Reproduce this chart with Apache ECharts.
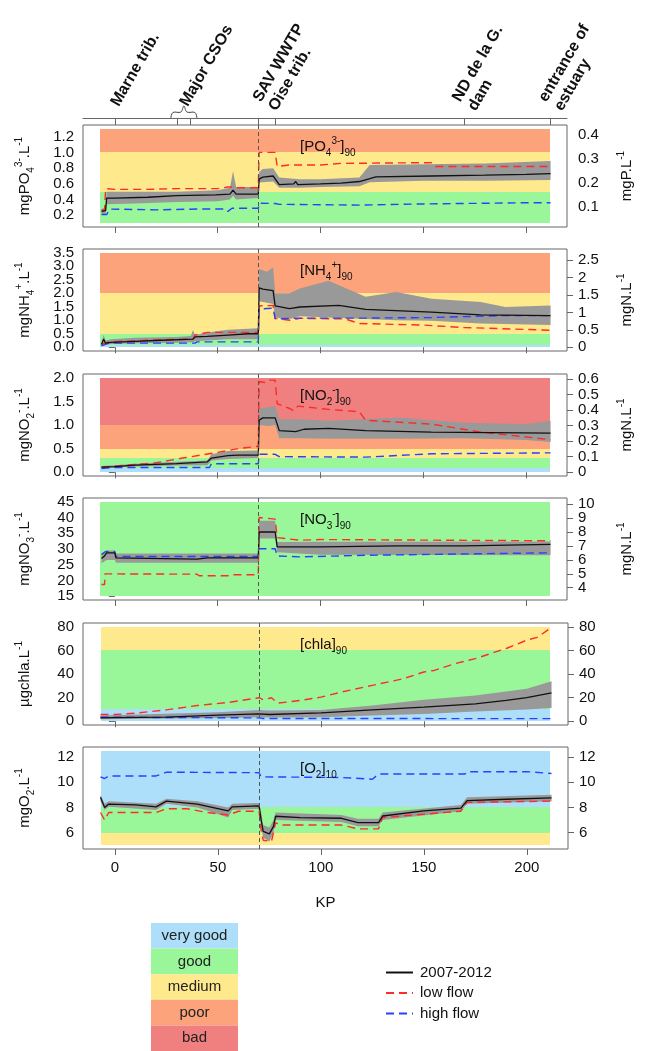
<!DOCTYPE html>
<html>
<head>
<meta charset="utf-8">
<script src="https://cdn.jsdelivr.net/npm/echarts@6/dist/echarts.min.js"></script>
<style>
  html, body { margin: 0; padding: 0; background: #fff; }
  #chart { width: 646px; height: 1051px; }
</style>
</head>
<body>
<div id="chart"></div>
<script>
// ---- x axis (KP) ----
const kpTicks = [0, 50, 100, 150, 200];
const siteTickKP = [0, 30.5, 36.7, 70, 78, 170, 212];
const siteKP = [0, 33.6, 73, 170, 212];
const siteNames = ['Marne trib.', 'Major CSOs', 'SAV WWTP\nOise trib.', 'ND de la G.\ndam', 'entrance of\nestuary'];

// ---- quality classes ----
const qualityKeys = ['vg', 'g', 'm', 'p', 'b'];
const qualityNames = ['very good', 'good', 'medium', 'poor', 'bad'];
const qualityColors = ['#ADDFFB', '#99F799', '#FEE98C', '#FCA37C', '#F0807F'];

// [low, high, class]
const po4Classes = [[0.1, 0.5, 'g'], [0.5, 1.0, 'm'], [1.0, 1.3, 'p']];
const nh4Classes = [[0, 0.1, 'vg'], [0.1, 0.5, 'g'], [0.5, 2, 'm'], [2, 3.5, 'p']];
const no2Classes = [[0, 0.1, 'vg'], [0.1, 0.3, 'g'], [0.3, 0.5, 'm'], [0.5, 1, 'p'], [1, 2, 'b']];
const no3Classes = [[15, 45, 'g']];
const chlaClasses = [[0, 10, 'vg'], [10, 60, 'g'], [60, 80, 'm']];
const o2Classes = [[5, 6, 'm'], [6, 8, 'g'], [8, 12.5, 'vg']];

// ---- PO4 (mgPO4/L) ----
const po4Mean = [[-6.5,0.25],[-4.5,0.26],[-4,0.42],[0,0.42],[16,0.43],[30,0.45],[49,0.46],[56,0.47],[57.5,0.52],[59,0.47],[69.8,0.47],[70.2,0.66],[72,0.685],[77,0.70],[80,0.59],[87,0.60],[88,0.63],[89,0.59],[100,0.60],[110,0.61],[119,0.63],[127,0.69],[154,0.70],[180,0.71],[200,0.72],[212,0.73]];
const po4Band = [[-6.5,0.22,0.28],[-4.5,0.22,0.30],[-4,0.34,0.50],[10,0.35,0.50],[30,0.37,0.50],[50,0.38,0.52],[56,0.40,0.55],[57.5,0.45,0.76],[59,0.40,0.56],[69.8,0.42,0.56],[70.2,0.62,0.75],[72,0.62,0.79],[77,0.63,0.80],[80,0.55,0.68],[90,0.55,0.66],[100,0.56,0.66],[119,0.57,0.68],[124,0.62,0.84],[150,0.64,0.85],[180,0.64,0.86],[212,0.65,0.89]];
const po4Low = [[-6.5,0.27],[-5,0.27],[-4.5,0.54],[0,0.53],[16,0.53],[30,0.54],[50,0.54],[55,0.56],[58,0.56],[60,0.55],[69.8,0.55],[70.2,1.0],[78,1.0],[79,0.82],[85,0.84],[100,0.84],[110,0.86],[154,0.87],[156,0.82],[212,0.82]];
const po4High = [[-6.5,0.21],[-4,0.21],[-2.5,0.28],[20,0.27],[40,0.28],[54,0.28],[55,0.25],[57,0.29],[69.8,0.29],[70.2,0.355],[78,0.35],[80,0.34],[120,0.33],[150,0.345],[200,0.36],[212,0.36]];

// ---- NH4 (mgNH4/L) ----
const nh4Mean = [[-6.5,0.1],[-5.5,0.3],[-4.5,0.15],[-2,0.18],[10,0.22],[20,0.25],[38,0.3],[39,0.38],[45,0.4],[55,0.45],[65,0.5],[69.8,0.5],[70.2,2.2],[72,2.15],[77,2.1],[78,1.53],[85,1.43],[90,1.49],[109,1.55],[122,1.40],[154,1.30],[178,1.20],[212,1.17]];
const nh4Band = [[-6.5,0.05,0.15],[-5.5,0.15,0.45],[-4.5,0.08,0.25],[-2,0.12,0.3],[10,0.15,0.35],[30,0.17,0.38],[37,0.18,0.42],[38,0.18,0.64],[39,0.22,0.45],[45,0.25,0.55],[55,0.3,0.65],[69.8,0.3,0.7],[70.2,1.7,2.9],[74,1.65,2.8],[77,1.6,2.96],[78,1.1,2.0],[85,1.05,2.0],[90,1.15,2.18],[104,1.1,2.46],[122,1.05,1.87],[137,1.0,2.05],[154,0.98,1.8],[178,0.88,1.68],[190,0.86,1.49],[212,0.82,1.55]];
const nh4Low = [[-6.5,0.1],[-3,0.2],[20,0.27],[38,0.3],[39,0.45],[45,0.55],[69.8,0.55],[70.2,1.53],[77,1.55],[78,1.07],[85,1.0],[90,1.07],[112,1.05],[119,0.88],[150,0.82],[170,0.73],[212,0.63]];
const nh4High = [[-6.5,0.05],[-3,0.15],[39,0.15],[40,0.2],[69.8,0.2],[70.2,1.41],[77,1.45],[78,1.05],[90,1.08],[122,1.08],[154,1.1],[187,1.17],[212,1.17]];

// ---- NO2 (mgNO2/L) ----
const no2Mean = [[-6.5,0.11],[0,0.12],[10,0.15],[30,0.18],[45,0.22],[47,0.3],[55,0.35],[60,0.36],[69.8,0.36],[70.2,1.1],[72,1.15],[78,1.15],[80,0.88],[88,0.86],[92,0.91],[104,0.93],[122,0.88],[154,0.85],[212,0.83]];
const no2Band = [[-6.5,0.09,0.13],[0,0.1,0.15],[10,0.12,0.18],[30,0.14,0.22],[45,0.15,0.25],[47,0.25,0.38],[55,0.28,0.45],[69.8,0.3,0.46],[70.2,1.0,1.35],[75,0.98,1.38],[78,1.0,1.4],[80,0.72,1.12],[90,0.72,1.12],[105,0.71,1.09],[138,0.71,1.16],[170,0.72,1.05],[200,0.68,1.02],[212,0.64,1.09]];
const no2Low = [[-6.5,0.1],[5,0.15],[20,0.2],[33,0.3],[50,0.42],[60,0.5],[69.8,0.55],[70.2,1.92],[73,1.9],[75,1.95],[78,1.95],[79,1.45],[85,1.35],[87,1.3],[89,1.4],[104,1.33],[119,1.28],[122,1.1],[154,1.02],[178,0.85],[212,0.69]];
const no2High = [[-6.5,0.08],[0,0.1],[46,0.1],[47,0.18],[69.8,0.18],[70.2,0.38],[78,0.38],[80,0.33],[122,0.32],[154,0.39],[212,0.41]];

// ---- NO3 (mgNO3/L) ----
const no3Mean = [[-6.5,27],[-5,27.8],[-4,28.8],[0,28.8],[0.5,27.2],[40,26.8],[45,27.2],[69.8,27.2],[70.2,35.4],[78,35.4],[79,30.7],[100,30.7],[138,31],[170,31],[212,31.5]];
const no3Band = [[-6.5,25.5,28.5],[-4,26.5,29.5],[0,26.5,29.5],[0.5,25.6,28.6],[69.8,25.6,28.6],[70.2,33.3,39],[78,33.3,39],[79,29,32.2],[100,28.2,32.3],[212,28.0,32.4]];
const no3Low = [[-6.5,18.7],[-5,18.7],[-4.8,22.1],[40,22],[41,21.5],[55,21.5],[56,21.8],[69.8,21.8],[70.2,40],[78,39.5],[79,33.6],[90,32.8],[100,33.0],[212,32.6]];
const no3High = [[-6.5,28.3],[-4.5,29.2],[0,29.2],[0.5,27.6],[69.8,27.6],[70.2,30.1],[78,30.1],[79,27.8],[90,27.5],[122,28.0],[212,28.8]];

// ---- chla (ug/L) ----
const chlaMean = [[-7,2.8],[0,3.1],[25,3.4],[50,5.1],[70,6.2],[75,5.7],[100,7.1],[125,9.6],[150,11.9],[175,14.7],[190,17.6],[200,19.9],[212,24.1]];
const chlaBand = [[-7,1.7,4.8],[50,2.8,7.7],[70,3.4,9.6],[75,3.2,9],[100,3.4,9.6],[125,4.8,13.3],[150,6.2,18.2],[175,8.2,21.8],[200,9.9,27.5],[212,11.3,33.8]];
const chlaLow = [[-7,5.7],[0,5.7],[10,6.8],[25,9.6],[40,13.3],[55,15.9],[70,19.9],[72,18.2],[76,19.9],[79,15.3],[90,17.6],[100,20.4],[110,24.7],[125,30.4],[140,36],[150,41.7],[155,43],[165,48.8],[175,53],[190,61.6],[200,68.7],[205,71],[212,79.4]];
const chlaHigh = [[-7,3.4],[70,2.8],[72,2.3],[212,2.2]];

// ---- O2 (mgO2/L) ----
const o2Mean = [[-7,8.8],[-5,8.0],[-3,8.27],[10,8.2],[20,8.05],[25,8.5],[40,8.27],[55,7.73],[57,8.05],[70,8.13],[71,7.0],[72,6.1],[75,5.9],[77,6.5],[78,7.3],[90,7.19],[110,7.14],[118,6.8],[128,6.8],[130,7.32],[150,7.73],[168,7.95],[171,8.54],[190,8.65],[212,8.76]];
const o2Band = [[-7,8.5,9.0],[-5,7.8,8.3],[-3,8.05,8.5],[20,7.8,8.3],[25,8.3,8.7],[40,8.0,8.5],[55,7.2,8.0],[57,7.8,8.3],[70,7.9,8.35],[71,6.5,7.6],[72,5.6,6.6],[75,5.3,6.4],[77,6.0,7.0],[78,7.0,7.6],[110,6.85,7.4],[118,6.5,7.1],[128,6.5,7.1],[130,7.0,7.6],[168,7.7,8.2],[171,8.3,8.8],[212,8.5,9.0]];
const o2Low = [[-7,7.6],[-5,7.0],[-3,7.6],[20,7.6],[25,7.9],[35,7.9],[45,7.6],[55,7.4],[60,7.7],[70,7.7],[71,6.2],[72,5.4],[76,5.3],[77,6.0],[78,6.8],[80,6.6],[110,6.6],[118,6.3],[128,6.3],[130,7.2],[168,7.7],[171,8.4],[212,8.5]];
const o2High = [[-7,10.43],[-5,10.3],[-3,10.5],[20,10.5],[25,10.8],[70,10.76],[71,10.43],[110,10.38],[125,10.24],[128,10.65],[170,10.65],[171,10.84],[200,10.84],[212,10.7]];

// ---- axis ticks ----
const po4LeftTicks = [0.2, 0.4, 0.6, 0.8, 1.0, 1.2];
const po4RightTicks = [0.1, 0.2, 0.3, 0.4];
const nh4LeftTicks = [0, 0.5, 1, 1.5, 2, 2.5, 3, 3.5];
const nh4RightTicks = [0, 0.5, 1, 1.5, 2, 2.5];
const no2LeftTicks = [0, 0.5, 1, 1.5, 2];
const no2RightTicks = [0, 0.1, 0.2, 0.3, 0.4, 0.5, 0.6];
const no3LeftTicks = [15, 20, 25, 30, 35, 40, 45];
const no3RightTicks = [4, 5, 6, 7, 8, 9, 10];
const chlaTicks = [0, 20, 40, 60, 80];
const o2Ticks = [6, 8, 10, 12];

const FONT = 'Liberation Sans, Arial, sans-serif';
const KP_MIN = -15.5, KP_MAX = 220, CLASS_X0 = -7, CLASS_X1 = 211.5;
const GRID_TOPS = [125, 249, 374, 498, 623, 747];
const GRID_H = 102;
const RICH = {
    sb: { fontSize: 10, lineHeight: 10, verticalAlign: 'bottom', fontFamily: FONT, color: '#111' },
    sp: { fontSize: 10, lineHeight: 10, verticalAlign: 'top', fontFamily: FONT, color: '#111' }
};

const panels = [
    { mean: po4Mean, band: po4Band, low: po4Low, high: po4High, classes: po4Classes,
      yMin: 0.052, yMax: 1.348, left: po4LeftTicks, right: po4RightTicks, factor: 0.3261,
      lfmt: v => v.toFixed(1), rfmt: v => v.toFixed(1),
      lname: 'mgPO{sb|4}{sp|3-}.L{sp|-1}', rname: 'mgP.L{sp|-1}', label: '[PO{sb|4}{sp|3-}]{sb|90}' },
    { mean: nh4Mean, band: nh4Band, low: nh4Low, high: nh4High, classes: nh4Classes,
      yMin: -0.14, yMax: 3.64, left: nh4LeftTicks, right: nh4RightTicks, factor: 0.7765,
      lfmt: v => v.toFixed(1), rfmt: v => String(v),
      lname: 'mgNH{sb|4}{sp|+}.L{sp|-1}', rname: 'mgN.L{sp|-1}', label: '[NH{sb|4}{sp|+}]{sb|90}' },
    { mean: no2Mean, band: no2Band, low: no2Low, high: no2High, classes: no2Classes,
      yMin: -0.08, yMax: 2.08, left: no2LeftTicks, right: no2RightTicks, factor: 0.3045,
      lfmt: v => v.toFixed(1), rfmt: v => String(v),
      lname: 'mgNO{sb|2}{sp|-}.L{sp|-1}', rname: 'mgN.L{sp|-1}', label: '[NO{sb|2}{sp|-}]{sb|90}' },
    { mean: no3Mean, band: no3Band, low: no3Low, high: no3High, classes: no3Classes,
      yMin: 13.8, yMax: 46.2, left: no3LeftTicks, right: no3RightTicks, factor: 0.2259,
      lfmt: v => String(v), rfmt: v => String(v),
      lname: 'mgNO{sb|3}{sp|-}.L{sp|-1}', rname: 'mgN.L{sp|-1}', label: '[NO{sb|3}{sp|-}]{sb|90}' },
    { mean: chlaMean, band: chlaBand, low: chlaLow, high: chlaHigh, classes: chlaClasses,
      yMin: -3.2, yMax: 83.2, left: chlaTicks, right: chlaTicks, factor: 1,
      lfmt: v => String(v), rfmt: v => String(v),
      lname: 'µgchla.L{sp|-1}', rname: '', label: '[chla]{sb|90}' },
    { mean: o2Mean, band: o2Band, low: o2Low, high: o2High, classes: o2Classes,
      yMin: 4.7, yMax: 12.8, left: o2Ticks, right: o2Ticks, factor: 1,
      lfmt: v => String(v), rfmt: v => String(v),
      lname: 'mgO{sb|2}.L{sp|-1}', rname: '', label: '[O{sb|2}]{sb|10}' }
];

const grids = [], xAxes = [], yAxes = [], extraYAxes = [], series = [], graphics = [];

const even = arr => arr.filter((v, k) => k % 2 === 0);
const odd = arr => arr.filter((v, k) => k % 2 === 1);

function tickLabel(customValues, formatter, margin) {
    return { customValues: customValues, formatter: formatter, margin: margin, fontSize: 15,
        color: '#111', fontFamily: FONT, showMinLabel: true, showMaxLabel: true };
}

// y axis pair for one side: labels split over two axes so that none gets dropped as overlapping
function sideAxes(i, pos, min, max, ticks, fmt, margin, name) {
    yAxes.push({
        gridIndex: i, type: 'value', position: pos, min: min, max: max,
        axisLine: { show: false }, splitLine: { show: false },
        axisTick: { customValues: ticks, length: 6, lineStyle: { color: '#666' } },
        axisLabel: tickLabel(even(ticks), fmt, margin),
        name: name, nameLocation: 'middle', nameRotate: 90, nameGap: pos === 'left' ? 47 : 49,
        nameTextStyle: { fontSize: 15, lineHeight: 22, color: '#111', fontFamily: FONT, rich: RICH }
    });
    extraYAxes.push({
        gridIndex: i, type: 'value', position: pos, min: min, max: max,
        axisLine: { show: false }, splitLine: { show: false }, axisTick: { show: false },
        axisLabel: tickLabel(odd(ticks), fmt, margin)
    });
}

panels.forEach(function (p, i) {
    grids.push({ left: 83, right: 78, top: GRID_TOPS[i], height: GRID_H, show: true,
        borderColor: '#666', borderWidth: 1, backgroundColor: '#fff' });

    xAxes.push({
        gridIndex: i, type: 'value', min: KP_MIN, max: KP_MAX, position: 'bottom',
        axisLine: { show: false }, splitLine: { show: false },
        axisTick: { customValues: kpTicks, length: 6, lineStyle: { color: '#666' } },
        axisLabel: { show: i === 5, customValues: kpTicks, margin: 11, fontSize: 15, color: '#111', fontFamily: FONT },
        name: i === 5 ? 'KP' : '', nameLocation: 'middle', nameGap: 46,
        nameTextStyle: { fontSize: 15, color: '#111', fontFamily: FONT }
    });

    sideAxes(i, 'left', p.yMin, p.yMax, p.left, p.lfmt, 9, p.lname);
    sideAxes(i, 'right', p.yMin * p.factor, p.yMax * p.factor, p.right, p.rfmt, 11, p.rname);

    // quality classes as filled rectangles
    series.push({
        type: 'custom', xAxisIndex: i, yAxisIndex: 2 * i, z: 1, silent: true,
        data: p.classes.map(c => [CLASS_X0, CLASS_X1, c[0], c[1], qualityKeys.indexOf(c[2])]),
        encode: { x: [0, 1], y: [2, 3] },
        renderItem: function (params, api) {
            const a = api.coord([api.value(0), api.value(3)]);
            const b = api.coord([api.value(1), api.value(2)]);
            const x0 = Math.round(a[0]), y0 = Math.round(a[1]);
            return { type: 'rect', shape: { x: x0, y: y0, width: Math.round(b[0]) - x0, height: Math.round(b[1]) - y0 },
                style: { fill: qualityColors[api.value(4)], lineWidth: 0 } };
        }
    });

    const band = p.band;
    series.push({
        type: 'custom', xAxisIndex: i, yAxisIndex: 2 * i, z: 2, silent: true,
        data: band, encode: { x: 0, y: [1, 2] },
        renderItem: function (params, api) {
            if (params.dataIndex !== 0) return;
            const up = band.map(d => api.coord([d[0], d[2]]));
            const lo = band.map(d => api.coord([d[0], d[1]])).reverse();
            return { type: 'polygon', shape: { points: up.concat(lo) }, style: { fill: '#999999' } };
        }
    });
    series.push({
        name: '2007-2012', type: 'line', xAxisIndex: i, yAxisIndex: 2 * i, z: 4,
        data: p.mean, symbol: 'none', lineStyle: { color: '#111', width: 1.3 }, itemStyle: { color: '#111' },
        markLine: {
            silent: true, symbol: 'none', label: { show: false },
            lineStyle: { color: '#555', width: 1, type: [4, 3] },
            data: [{ xAxis: 70 }]
        }
    });
    series.push({
        name: 'low flow', type: 'line', xAxisIndex: i, yAxisIndex: 2 * i, z: 3,
        data: p.low, symbol: 'none', lineStyle: { color: '#FF2A2A', width: 1.4, type: [8, 5] }, itemStyle: { color: '#FF2A2A' }
    });
    series.push({
        name: 'high flow', type: 'line', xAxisIndex: i, yAxisIndex: 2 * i, z: 3,
        data: p.high, symbol: 'none', lineStyle: { color: '#2A40FF', width: 1.4, type: [8, 5] }, itemStyle: { color: '#2A40FF' }
    });

    graphics.push({
        type: 'text', left: 300, top: GRID_TOPS[i] + 11, z: 10,
        style: { text: p.label, fontSize: 15, lineHeight: 22, fill: '#111', fontFamily: FONT, rich: RICH }
    });
});

// top annotation axis on first panel
xAxes.push({
    gridIndex: 0, type: 'value', min: KP_MIN, max: KP_MAX, position: 'top', offset: 7,
    axisLine: { show: true, lineStyle: { color: '#666' } }, splitLine: { show: false },
    axisTick: { inside: true, customValues: siteTickKP, length: 7, lineStyle: { color: '#666' } },
    axisLabel: {
        customValues: siteKP, rotate: -60, margin: 13, fontSize: 16, fontWeight: 'bold', color: '#111', fontFamily: FONT,
        lineHeight: 18, hideOverlap: false,
        formatter: function (v) {
            const k = siteKP.findIndex(s => Math.abs(s - v) < 1e-6);
            return k >= 0 ? siteNames[k] : '';
        }
    }
});

// quality legend
qualityNames.forEach(function (n, k) {
    graphics.push({ type: 'rect', x: 151, y: 923 + k * 25.6, z: 10,
        shape: { x: 0, y: 0, width: 87, height: 25.6 }, style: { fill: qualityColors[k] } });
    graphics.push({ type: 'text', x: 194.5, y: 923 + k * 25.6 + 12.8, z: 11,
        style: { text: n, align: 'center', verticalAlign: 'middle', fontSize: 15, fill: '#222', fontFamily: FONT } });
});

const chart = echarts.init(document.getElementById('chart'), null, { renderer: 'canvas' });
chart.setOption({
    animation: false,
    backgroundColor: '#fff',
    grid: grids,
    xAxis: xAxes,
    yAxis: yAxes.concat(extraYAxes),
    series: series,
    legend: {
        data: ['2007-2012', 'low flow', 'high flow'],
        orient: 'vertical', left: 380, top: 960, itemWidth: 27, itemHeight: 14, itemGap: 5.5,
        itemStyle: { opacity: 0 },
        textStyle: { fontSize: 15, color: '#111', fontFamily: FONT, padding: [0, 0, 0, 2] },
        selectedMode: false
    },
    graphic: graphics
});

// brace over the two CSO ticks
const bx = chart.convertToPixel({ xAxisIndex: 6 }, 33.6);
chart.setOption({
    graphic: graphics.concat([{
        type: 'polyline', z: 12, silent: true,
        shape: { smooth: 0.4, points: [[bx - 13, 118], [bx - 11, 112.5], [bx - 3, 112], [bx, 106], [bx + 3, 112], [bx + 11, 112.5], [bx + 13, 118]] },
        style: { fill: null, stroke: '#444', lineWidth: 1 }
    }])
});
</script>
</body>
</html>
